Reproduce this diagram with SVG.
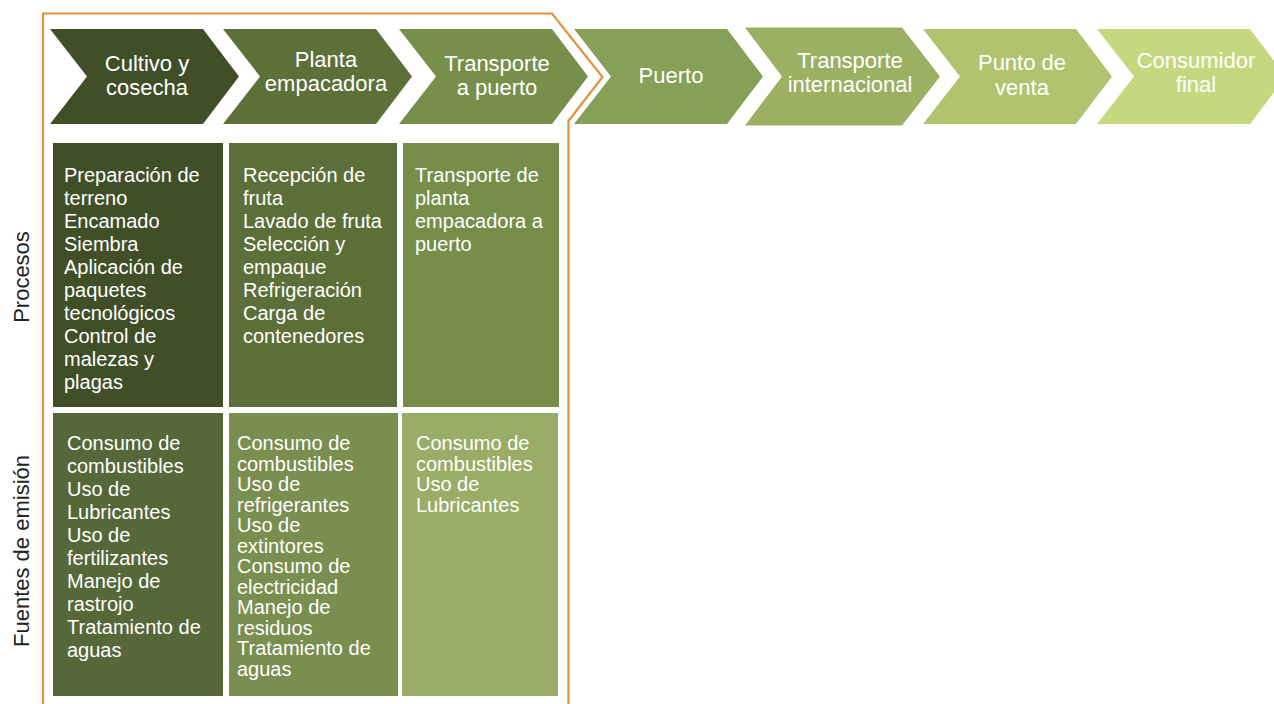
<svg xmlns="http://www.w3.org/2000/svg" width="1274" height="704" viewBox="0 0 1274 704">
<style>
.hd{font-family:"Liberation Sans",Arial,sans-serif;font-size:22px;fill:#ffffff;text-anchor:middle}
.bt{font-family:"Liberation Sans",Arial,sans-serif;font-size:20px;fill:#ffffff}
.rl{font-family:"Liberation Sans",Arial,sans-serif;font-size:22px;fill:#222222;text-anchor:middle}
</style>
<defs>
<polygon id="chev" points="0,29 153,29 189,76.5 153,124 0,124 37,76.5"/>
</defs>
<rect width="1274" height="704" fill="#ffffff"/>
<g id="boundary">
<polyline points="43,704 43,13.5 552,13.5 602.5,77 568.5,121 568.5,704" fill="none" stroke="#e3913f" stroke-width="2.2"/>
</g>
<g id="stage-cultivo"><use href="#chev" x="50" fill="#404f27"/><text class="hd" x="147" y="71">Cultivo y</text><text class="hd" x="147" y="95">cosecha</text></g>
<g id="stage-planta"><use href="#chev" x="223" fill="#5e7039"/><text class="hd" x="326" y="67">Planta</text><text class="hd" x="326" y="91">empacadora</text></g>
<g id="stage-transporte"><use href="#chev" x="399" fill="#788f4c"/><text class="hd" x="497" y="71">Transporte</text><text class="hd" x="497" y="95">a puerto</text></g>
<g id="stage-puerto"><use href="#chev" x="574" fill="#87a057"/><text class="hd" x="671" y="83">Puerto</text></g>
<g id="stage-internacional"><polygon points="745,27.5 902,27.5 940,76.5 902,125.5 745,125.5 782,76.5" fill="#9bb063"/><text class="hd" x="850" y="68">Transporte</text><text class="hd" x="850" y="92">internacional</text></g>
<g id="stage-venta"><use href="#chev" x="923" fill="#b0c46f"/><text class="hd" x="1022" y="70">Punto de</text><text class="hd" x="1022" y="95">venta</text></g>
<g id="stage-consumidor"><use href="#chev" x="1097" fill="#c5d880"/><text class="hd" x="1196" y="68">Consumidor</text><text class="hd" x="1196" y="92">final</text></g>
<g id="label-procesos"><text class="rl" transform="translate(29,277) rotate(-90)">Procesos</text></g>
<g id="label-fuentes"><text class="rl" transform="translate(29,551) rotate(-90)">Fuentes de emisión</text></g>
<g id="proc-cultivo"><rect x="53" y="143" width="170" height="264" fill="#404f27"/>
<text class="bt" x="64" y="182">Preparación de</text><text class="bt" x="64" y="205">terreno</text><text class="bt" x="64" y="228">Encamado</text><text class="bt" x="64" y="251">Siembra</text><text class="bt" x="64" y="274">Aplicación de</text><text class="bt" x="64" y="297">paquetes</text><text class="bt" x="64" y="320">tecnológicos</text><text class="bt" x="64" y="343">Control de</text><text class="bt" x="64" y="366">malezas y</text><text class="bt" x="64" y="389">plagas</text></g>
<g id="proc-planta"><rect x="229" y="143" width="168" height="264" fill="#5d6f39"/>
<text class="bt" x="243" y="182">Recepción de</text><text class="bt" x="243" y="205">fruta</text><text class="bt" x="243" y="228">Lavado de fruta</text><text class="bt" x="243" y="251">Selección y</text><text class="bt" x="243" y="274">empaque</text><text class="bt" x="243" y="297">Refrigeración</text><text class="bt" x="243" y="320">Carga de</text><text class="bt" x="243" y="343">contenedores</text></g>
<g id="proc-transporte"><rect x="403" y="143" width="156" height="264" fill="#778e4b"/>
<text class="bt" x="415" y="182">Transporte de</text><text class="bt" x="415" y="205">planta</text><text class="bt" x="415" y="228">empacadora a</text><text class="bt" x="415" y="251">puerto</text></g>
<g id="fuente-cultivo"><rect x="53" y="413" width="170" height="283" fill="#566839"/>
<text class="bt" x="67" y="450">Consumo de</text><text class="bt" x="67" y="473">combustibles</text><text class="bt" x="67" y="496">Uso de</text><text class="bt" x="67" y="519">Lubricantes</text><text class="bt" x="67" y="542">Uso de</text><text class="bt" x="67" y="565">fertilizantes</text><text class="bt" x="67" y="588">Manejo de</text><text class="bt" x="67" y="611">rastrojo</text><text class="bt" x="67" y="634">Tratamiento de</text><text class="bt" x="67" y="657">aguas</text></g>
<g id="fuente-planta"><rect x="229" y="413" width="169" height="283" fill="#7a8e4f"/>
<text class="bt" x="237" y="450">Consumo de</text><text class="bt" x="237" y="470.5">combustibles</text><text class="bt" x="237" y="491">Uso de</text><text class="bt" x="237" y="511.5">refrigerantes</text><text class="bt" x="237" y="532">Uso de</text><text class="bt" x="237" y="552.5">extintores</text><text class="bt" x="237" y="573">Consumo de</text><text class="bt" x="237" y="593.5">electricidad</text><text class="bt" x="237" y="614">Manejo de</text><text class="bt" x="237" y="634.5">residuos</text><text class="bt" x="237" y="655">Tratamiento de</text><text class="bt" x="237" y="675.5">aguas</text></g>
<g id="fuente-transporte"><rect x="402" y="413" width="156" height="283" fill="#99ad67"/>
<text class="bt" x="416" y="450">Consumo de</text><text class="bt" x="416" y="470.5">combustibles</text><text class="bt" x="416" y="491">Uso de</text><text class="bt" x="416" y="511.5">Lubricantes</text></g>
<g id="connectors"></g>
</svg>
